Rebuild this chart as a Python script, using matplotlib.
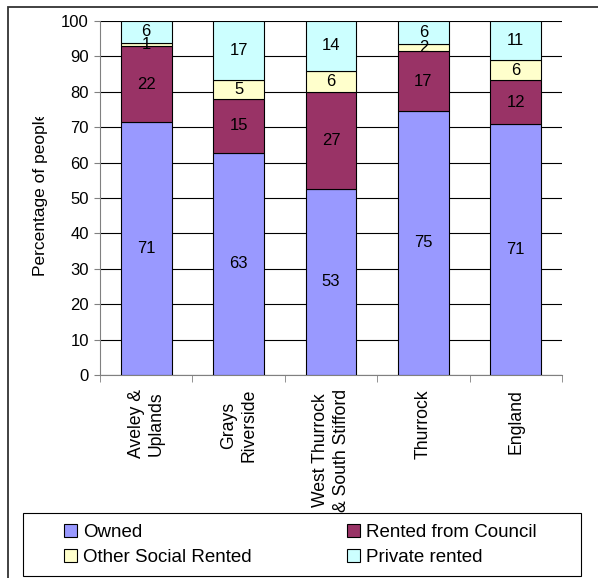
import matplotlib
matplotlib.use("Agg")
import matplotlib.pyplot as plt
import numpy as np
from matplotlib.patches import Rectangle
from matplotlib.transforms import Bbox

plt.rcParams['font.family'] = ['Liberation Sans', 'DejaVu Sans']

# data
areas = ["Aveley &\nUplands", "Grays\nRiverside", "West Thurrock\n& South Stifford",
         "Thurrock", "England"]
owned = [71.4, 62.8, 52.6, 74.6, 70.9]
council = [21.6, 15.2, 27.3, 16.8, 12.4]
other_social = [0.9, 5.4, 6.0, 2.1, 5.7]
private = [6.1, 16.6, 14.1, 6.4, 11.0]

series = [("Owned", owned, "#9999FF"),
          ("Rented from Council", council, "#993366"),
          ("Other Social Rented", other_social, "#FFFFCC"),
          ("Private rented", private, "#CCFFFF")]

W, H = 598, 578
fig = plt.figure(figsize=(W / 100, H / 100), dpi=100)
ax = fig.add_axes([100 / W, (H - 375) / H, 462 / W, 354 / H])

x = np.arange(len(areas))
bottom = np.zeros(len(areas))
handles = []
for name, vals, col in series:
    vals = np.array(vals)
    bars = ax.bar(x, vals, 0.55, bottom=bottom, color=col, edgecolor="black",
                  linewidth=0.8, label=name, zorder=3)
    handles.append(bars)
    for xi, b, v in zip(x, bottom, vals):
        ax.text(xi, b + v / 2, f"{v:.0f}", ha="center", va="center",
                fontsize=12, zorder=4)
    bottom += vals

ax.set_xlim(-0.5, len(areas) - 0.5)
ax.set_ylim(0, 100)
ax.set_yticks(range(0, 101, 10))
ax.yaxis.grid(True, color="black", linewidth=0.8, zorder=0)
ax.set_axisbelow(True)
for s in ["top", "right"]:
    ax.spines[s].set_visible(False)
for s in ["left", "bottom"]:
    ax.spines[s].set_color("#808080")
ax.tick_params(axis="y", length=4, color="#808080", labelsize=12, pad=4)

ax.set_xticks(x)
ax.set_xticklabels(areas, rotation=90, ha="center", va="top",
                   multialignment="center", fontsize=12.7, linespacing=1.25)
ax.tick_params(axis="x", which="major", length=0, pad=10)
ax.set_xticks(np.arange(len(areas) + 1) - 0.5, minor=True)
ax.tick_params(axis="x", which="minor", length=5, color="#808080")

# y label, clipped at the top like the original
yl = fig.text(41 / W, 1 - 276 / H, "Percentage of people", rotation=90,
              ha="center", va="bottom", fontsize=12.5)
yl.set_clip_box(Bbox.from_extents(0, 0, W, H - 117))
yl.set_clip_on(True)

# outer frame
fig.patches.append(Rectangle((8 / W, -0.1), 1.2, 1 - 7 / H + 0.1,
                             transform=fig.transFigure, fill=False,
                             edgecolor="#333333", linewidth=1.3))

# legend box
fig.patches.append(Rectangle((23 / W, (H - 576) / H), 558 / W, 63 / H,
                             transform=fig.transFigure, fill=False,
                             edgecolor="black", linewidth=0.8))
order = [0, 2, 1, 3]
fig.legend(handles=[handles[i] for i in order], loc="center left",
           bbox_to_anchor=(64 / W, (H - 545) / H), ncol=2, frameon=False,
           fontsize=13.5, handlelength=0.7, handleheight=0.7,
           handletextpad=0.3, columnspacing=5.1, labelspacing=0.4,
           borderpad=0, borderaxespad=0)

fig.savefig("out.png", dpi=100)
